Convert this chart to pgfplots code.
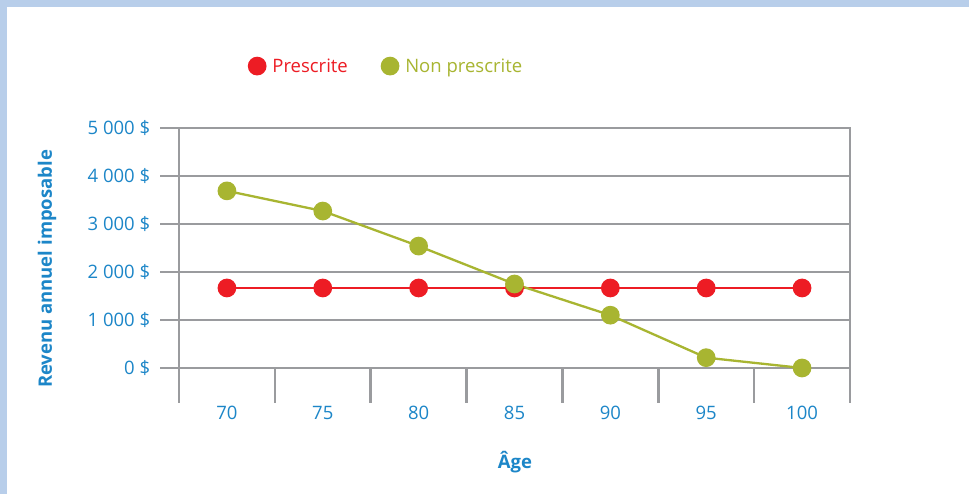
\documentclass[border=0pt]{standalone}
\usepackage{fontspec}
\setmainfont{Open Sans}
\usepackage{pgfplots}
\pgfplotsset{compat=1.18}
\definecolor{bluetxt}{RGB}{28,134,200}
\definecolor{borderblue}{RGB}{184,206,234}
\definecolor{redc}{RGB}{237,28,36}
\definecolor{greenc}{RGB}{168,181,49}
\definecolor{grayl}{RGB}{154,155,158}
\newcommand{\fs}{\fontsize{18.5}{22}\selectfont}
\begin{document}
\begin{tikzpicture}[x=1pt,y=1pt]
\fill[borderblue] (0,0) rectangle (969,494);
\fill[white] (7,0) rectangle (969,487);
\begin{axis}[
  at={(179pt,126pt)}, anchor=south west,
  scale only axis, width=671pt, height=240pt,
  xmin=-0.5, xmax=6.5, ymin=0, ymax=5000,
  xtick={-0.5,0.5,1.5,2.5,3.5,4.5,5.5,6.5},
  xticklabels={70,75,80,85,90,95,100},
  x tick label as interval,
  ytick={0,1000,2000,3000,4000,5000},
  yticklabels={0 \$,1 000 \$,2 000 \$,3 000 \$,4 000 \$,5 000 \$},
  ymajorgrids,
  grid style={grayl, line width=2.5pt},
  axis line style={grayl, line width=2.5pt},
  tick style={grayl, line width=2.5pt},
  tick align=outside,
  xtick pos=bottom, ytick pos=left,
  xtick style={/pgfplots/major tick length=35pt},
  ytick style={/pgfplots/major tick length=19pt},
  ticklabel style={font=\fs, text=bluetxt},
  yticklabel style={xshift=-21pt},
  xticklabel style={yshift=-30pt},
  xlabel={Âge},
  ylabel={Revenu annuel imposable},
  xlabel style={font=\fs\bfseries, text=bluetxt, at={(axis description cs:0.5007,-0.392)}, anchor=center},
  ylabel style={font=\fs\bfseries, text=bluetxt, at={(axis description cs:-0.1967,0.4125)}, anchor=center},
  clip=false,
  legend columns=2,
  legend style={at={(axis description cs:0.104,1.258)}, anchor=west, draw=none, fill=none, inner sep=0pt, font=\fs,
    /tikz/every odd column/.append style={column sep=5pt},
    /tikz/every even column/.append style={column sep=32pt}},
  legend image code/.code={\draw[#1] plot coordinates {(8pt,0pt)};},
]
\addplot[redc, line width=2.3pt, mark=*, mark size=8.2pt, mark options={draw=none, fill=redc}]
  coordinates {(0,1667) (1,1667) (2,1667) (3,1667) (4,1667) (5,1667) (6,1667)};
\addlegendentry{\textcolor{redc}{Prescrite}}
\addplot[greenc, line width=2.3pt, mark=*, mark size=8.2pt, mark options={draw=none, fill=greenc}]
  coordinates {(0,3690) (1,3270) (2,2540) (3,1750) (4,1100) (5,215) (6,0)};
\addlegendentry{\textcolor{greenc}{Non prescrite}}
\end{axis}
\pgfresetboundingbox
\useasboundingbox (0,0) rectangle (969,494);
\end{tikzpicture}
\end{document}
